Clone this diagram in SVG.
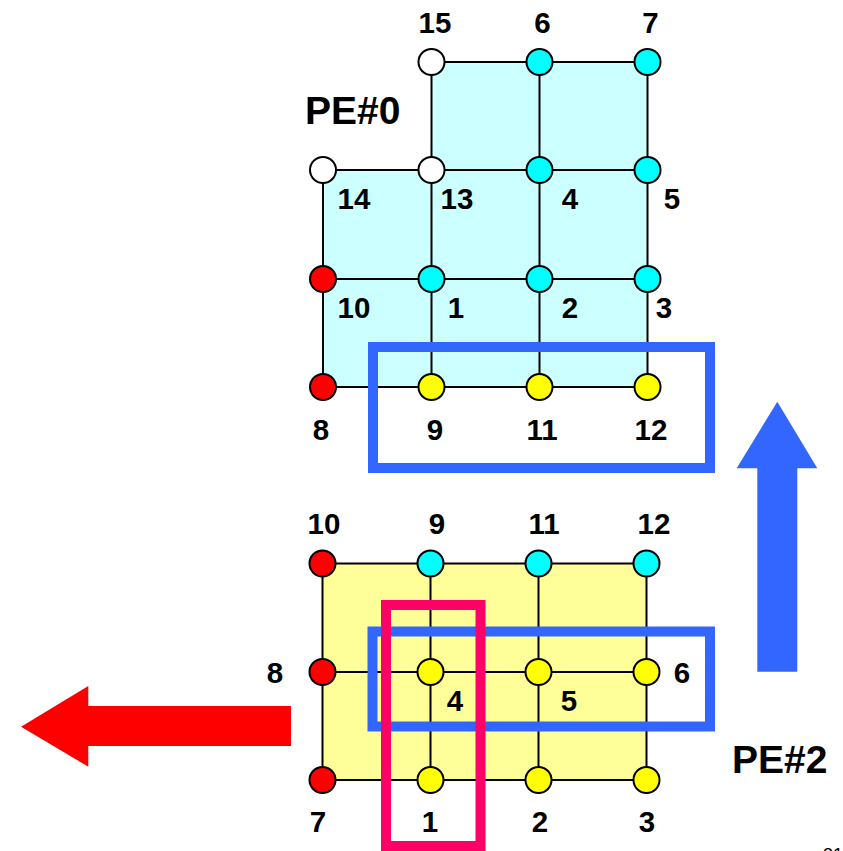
<svg xmlns="http://www.w3.org/2000/svg" width="843" height="851" viewBox="0 0 843 851">
<style>
.ln{stroke:#000;stroke-width:2;fill:none}
.nd{stroke:#000;stroke-width:2}
.w{fill:#fff}.c{fill:#00ffff}.r{fill:#ff0000}.y{fill:#ffff00}
.lb{font-family:"Liberation Sans",Arial,sans-serif;font-weight:bold;font-size:29.5px;fill:#000;text-anchor:middle}
.pe{font-family:"Liberation Sans",Arial,sans-serif;font-weight:bold;font-size:39px;fill:#000}
.box{fill:none;stroke-width:10}
</style>
<!-- regions -->
<polygon points="431.5,62 647.5,62 647.5,387 323,387 323,170 431.5,170" fill="#ccffff"/>
<rect x="322.5" y="563.5" width="324" height="216.5" fill="#ffff99"/>
<g id="connectors">
<path class="ln" d="M431.5 62H647.5M323 170H647.5M323 279H647.5M323 387H647.5M323 170V387M431.5 62V387M539.5 62V387M647.5 62V387"/>
<path class="ln" d="M322.5 563.5H646.5M322.5 672H646.5M322.5 780H646.5M322.5 563.5V780M430.5 563.5V780M538.5 563.5V780M646.5 563.5V780"/>
</g>
<!-- PE#0 nodes -->
<g id="pe0-n15"><circle class="nd w" cx="431.5" cy="62" r="13"/><text class="lb" x="435" y="33">15</text></g>
<g id="pe0-n6"><circle class="nd c" cx="539.5" cy="62" r="13"/><text class="lb" x="542.5" y="33">6</text></g>
<g id="pe0-n7"><circle class="nd c" cx="647.5" cy="62" r="13"/><text class="lb" x="650.5" y="33">7</text></g>
<g id="pe0-n14"><circle class="nd w" cx="323" cy="170" r="13"/><text class="lb" x="354" y="209">14</text></g>
<g id="pe0-n13"><circle class="nd w" cx="431.5" cy="170" r="13"/><text class="lb" x="457" y="209">13</text></g>
<g id="pe0-n4"><circle class="nd c" cx="539.5" cy="170" r="13"/><text class="lb" x="570" y="209">4</text></g>
<g id="pe0-n5"><circle class="nd c" cx="647.5" cy="170" r="13"/><text class="lb" x="672" y="209">5</text></g>
<g id="pe0-n10"><circle class="nd r" cx="323" cy="279" r="13"/><text class="lb" x="354" y="318">10</text></g>
<g id="pe0-n1"><circle class="nd c" cx="431.5" cy="279" r="13"/><text class="lb" x="456" y="318">1</text></g>
<g id="pe0-n2"><circle class="nd c" cx="539.5" cy="279" r="13"/><text class="lb" x="570" y="318">2</text></g>
<g id="pe0-n3"><circle class="nd c" cx="647.5" cy="279" r="13"/><text class="lb" x="664" y="318">3</text></g>
<g id="pe0-n8"><circle class="nd r" cx="323" cy="387" r="13"/><text class="lb" x="321" y="440">8</text></g>
<g id="pe0-n9"><circle class="nd y" cx="431.5" cy="387" r="13"/><text class="lb" x="435" y="440">9</text></g>
<g id="pe0-n11"><circle class="nd y" cx="539.5" cy="387" r="13"/><text class="lb" x="542" y="440">11</text></g>
<g id="pe0-n12"><circle class="nd y" cx="647.5" cy="387" r="13"/><text class="lb" x="651" y="440">12</text></g>
<!-- PE#2 nodes -->
<g id="pe2-n10"><circle class="nd r" cx="322.5" cy="563.5" r="13"/><text class="lb" x="324" y="534">10</text></g>
<g id="pe2-n9"><circle class="nd c" cx="430.5" cy="563.5" r="13"/><text class="lb" x="437" y="534">9</text></g>
<g id="pe2-n11"><circle class="nd c" cx="538.5" cy="563.5" r="13"/><text class="lb" x="544" y="534">11</text></g>
<g id="pe2-n12"><circle class="nd c" cx="646.5" cy="563.5" r="13"/><text class="lb" x="654" y="534">12</text></g>
<g id="pe2-n8"><circle class="nd r" cx="322.5" cy="672" r="13"/><text class="lb" x="275" y="683">8</text></g>
<g id="pe2-n4"><circle class="nd y" cx="430.5" cy="672" r="13"/><text class="lb" x="455" y="711">4</text></g>
<g id="pe2-n5"><circle class="nd y" cx="538.5" cy="672" r="13"/><text class="lb" x="569" y="711">5</text></g>
<g id="pe2-n6"><circle class="nd y" cx="646.5" cy="672" r="13"/><text class="lb" x="682" y="683">6</text></g>
<g id="pe2-n7"><circle class="nd r" cx="322.5" cy="780" r="13"/><text class="lb" x="318" y="832">7</text></g>
<g id="pe2-n1"><circle class="nd y" cx="430.5" cy="780" r="13"/><text class="lb" x="430" y="832">1</text></g>
<g id="pe2-n2"><circle class="nd y" cx="538.5" cy="780" r="13"/><text class="lb" x="540" y="832">2</text></g>
<g id="pe2-n3"><circle class="nd y" cx="646.5" cy="780" r="13"/><text class="lb" x="647" y="832">3</text></g>
<!-- highlight boxes -->
<rect class="box" x="373" y="347" width="337" height="121" stroke="#3366ff"/>
<rect class="box" x="372.5" y="631.5" width="337.5" height="95" stroke="#3366ff"/>
<rect class="box" x="386" y="605" width="94.5" height="241" stroke="#ff0066"/>
<!-- arrows -->
<polygon points="777.3,401.7 817.3,468.3 797.3,468.3 797.3,671.7 757.3,671.7 757.3,468.3 736.7,468.3" fill="#3366ff"/>
<polygon points="21,726.7 88.3,686 88.3,706 291,706 291,746 88.3,746 88.3,766.7" fill="#ff0000"/>
<!-- labels -->
<text class="pe" x="305" y="124">PE#0</text>
<text class="pe" x="732" y="773">PE#2</text>
<text x="823" y="861" font-family="'Liberation Sans',Arial,sans-serif" font-size="18" fill="#000">31</text>
</svg>
